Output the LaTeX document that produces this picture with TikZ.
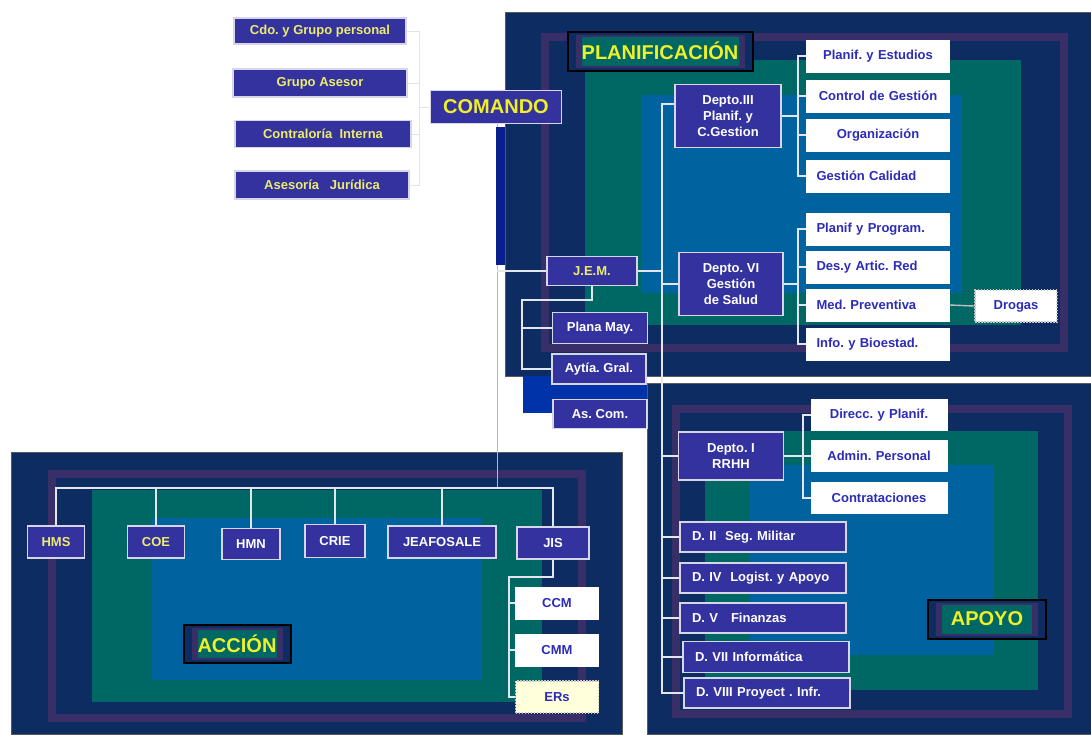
\documentclass[tikz,border=0pt]{standalone}
\usepackage{fontspec}
\setmainfont{Liberation Sans}
\frenchspacing
\definecolor{navybg}{RGB}{12,44,98}
\definecolor{ringpurple}{RGB}{56,46,104}
\definecolor{tealbg}{RGB}{0,104,100}
\definecolor{bluebg}{RGB}{0,98,158}
\definecolor{boxblue}{RGB}{52,50,158}
\definecolor{boxedge}{RGB}{214,214,230}
\definecolor{labyellow}{RGB}{240,240,40}
\definecolor{softyellow}{RGB}{236,236,110}
\definecolor{textblue}{RGB}{44,44,184}
\definecolor{linewhite}{RGB}{228,230,238}
\definecolor{stripblue}{RGB}{10,30,140}
\definecolor{royal}{RGB}{0,50,170}
\definecolor{erfill}{RGB}{255,255,220}
\begin{document}
\begin{tikzpicture}[x=1pt, y=-1pt,
    every node/.style={font=\fontsize{13}{16}\selectfont\bfseries, inner sep=0pt, align=center},
    ybox/.style={fill=boxblue, draw=boxedge, line width=1.4pt, text=softyellow},
    pbox/.style={fill=boxblue, draw=boxedge, line width=1.4pt, text=white},
    wbox/.style={fill=white, draw=white, text=textblue, minimum height=32pt,
        text width=123pt, inner xsep=10pt, align=left},
    dbox/.style={pbox, minimum height=30pt, text width=142pt, inner xsep=12pt, align=left},
    dotbox/.style={draw=gray!45, dash pattern=on 1.5pt off 1.5pt, line width=1.5pt, text=textblue},
    tag/.style={fill=navybg, draw=black, line width=2pt, text=labyellow,
        font=\fontsize{20}{24}\selectfont\bfseries,
        path picture={
          \fill[ringpurple] ([shift={(8pt,-3pt)}]path picture bounding box.north west)
              rectangle ([shift={(-8pt,3pt)}]path picture bounding box.south east);
          \fill[tealbg] ([shift={(14pt,-5pt)}]path picture bounding box.north west)
              rectangle ([shift={(-14pt,5pt)}]path picture bounding box.south east);}},
    conn/.style={draw=linewhite, line width=2.4pt},
    thin/.style={draw=gray!55, line width=1pt},
    faint/.style={draw=gray!22, line width=1pt}]
\useasboundingbox (0,0) rectangle (1091,734);

% Planificacion panel
\fill[navybg] (505,12) rectangle (1091,376);
\draw[ringpurple, line width=8pt] (545,37) rectangle (1064,348);
\fill[tealbg] (585,60) rectangle (1021,325);
\fill[bluebg] (641,95) rectangle (962,293);
\draw[gray!70!black] (505,12) rectangle (1091,376);

% Apoyo panel
\fill[navybg] (647,383) rectangle (1091,734);
\draw[ringpurple, line width=8pt] (676,409) rectangle (1068,714);
\fill[tealbg] (705,431) rectangle (1038,690);
\fill[bluebg] (750,465) rectangle (994,655);
\draw[gray!70!black] (647,383) rectangle (1091,734);

% Accion panel
\fill[navybg] (11,452) rectangle (622,734);
\draw[ringpurple, line width=8pt] (52,474) rectangle (582,718);
\fill[tealbg] (92,490) rectangle (542,702);
\fill[bluebg] (152,518) rectangle (482,680);
\draw[gray!70!black] (11,452) rectangle (622,734);

\fill[royal] (523,376) rectangle (647,413);

% Comando and staff
\node[ybox, minimum width=172pt, minimum height=26pt] (cdo) at (320,31) {Cdo. y Grupo personal};
\node[ybox, minimum width=174pt, minimum height=28pt] (asesor) at (320,83) {Grupo Asesor};
\node[ybox, minimum width=176pt, minimum height=27pt] (contral) at (323,134) {Contraloría\ \ Interna};
\node[ybox, minimum width=174pt, minimum height=28pt] (jurid) at (322,185) {Asesoría\ \ \ Jurídica};
\node[ybox, text=labyellow, minimum width=131pt, minimum height=33pt,
    font=\fontsize{20}{24}\selectfont\bfseries] (comando) at (496,107) {COMANDO};

% J.E.M. and its staff
\node[ybox, minimum width=90pt, minimum height=29pt] (jem) at (592,271) {J.E.M.};
\node[pbox, minimum width=95pt, minimum height=31pt] (plana) at (600,328) {Plana May.};
\node[pbox, minimum width=94pt, minimum height=30pt] (aytia) at (599,369) {Aytía. Gral.};
\node[pbox, minimum width=94pt, minimum height=29pt] (ascom) at (600,414) {As. Com.};

% Planificacion
\node[tag, minimum width=185pt, minimum height=39pt] (planif) at (660,51) {PLANIFICACIÓN};
\node[pbox, minimum width=106pt, minimum height=63pt] (dIII) at (728,116) {Depto.III\\Planif. y\\C.Gestion};
\node[pbox, minimum width=104pt, minimum height=63pt] (dVI) at (731,284) {Depto. VI\\Gestión\\de Salud};
\node[wbox, align=center] (pe) at (878,56) {Planif. y Estudios};
\node[wbox, align=center] (cg) at (878,96) {Control de Gestión};
\node[wbox, align=center] (org) at (878,135) {Organización};
\node[wbox] (gc) at (878,176) {Gestión Calidad};
\node[wbox] (pp) at (878,229) {Planif y Program.};
\node[wbox] (dar) at (878,267) {Des.y Artic. Red};
\node[wbox] (mp) at (878,305) {Med. Preventiva};
\node[wbox] (ib) at (878,344) {Info. y Bioestad.};
\node[dotbox, fill=white, minimum width=82pt, minimum height=32pt] (drogas) at (1016,306) {Drogas};

% Apoyo
\node[tag, minimum width=118pt, minimum height=39pt] (apoyo) at (987,619) {APOYO};
\node[pbox, minimum width=105pt, minimum height=48pt] (dI) at (731,456) {Depto. I\\RRHH};
\node[wbox, text width=116pt, align=center, minimum height=31pt] (dp) at (879,415) {Direcc. y Planif.};
\node[wbox, text width=116pt, align=center, minimum height=31pt] (ap) at (879,456) {Admin. Personal};
\node[wbox, text width=116pt, align=center, minimum height=31pt] (con) at (879,498) {Contrataciones};
\node[dbox] (dII) at (763,537) {D. II\ \ Seg. Militar};
\node[dbox] (dIV) at (763,578) {D. IV\ \ Logist. y Apoyo};
\node[dbox] (dV) at (763,618) {D. V\ \ \ Finanzas};
\node[dbox, minimum height=31pt] (dVII) at (766,657) {D. VII Informática};
\node[dbox] (dVIII) at (767,693) {D. VIII Proyect . Infr.};

% Accion
\node[tag, minimum width=107pt, minimum height=38pt] (accion) at (237,644) {ACCIÓN};
\node[ybox, minimum width=57pt, minimum height=32pt] (hms) at (56,542) {HMS};
\node[ybox, minimum width=57pt, minimum height=32pt] (coe) at (156,542) {COE};
\node[pbox, minimum width=58pt, minimum height=31pt] (hmn) at (251,544) {HMN};
\node[pbox, minimum width=60pt, minimum height=33pt] (crie) at (335,541) {CRIE};
\node[pbox, minimum width=108pt, minimum height=32pt] (jeaf) at (442,542) {JEAFOSALE};
\node[pbox, minimum width=72pt, minimum height=32pt] (jis) at (553,543) {JIS};
\node[wbox, text width=63pt, align=center] (ccm) at (557,603) {CCM};
\node[wbox, text width=63pt, align=center] (cmm) at (557,650) {CMM};
\node[dotbox, fill=erfill, minimum width=83pt, minimum height=32pt] (ers) at (557,697) {ERs};

% staff bracket
\coordinate (ulb) at (419,26);
\draw[faint] (cdo.east) -- (ulb |- cdo.east) -- (ulb |- jurid.east) -- (jurid.east);
\draw[faint] (asesor.east) -- (ulb |- asesor.east);
\draw[faint] (contral.east) -- (ulb |- contral.east);
\draw[faint] (ulb |- comando.west) -- (comando.west);

% comando down to accion
\coordinate (abar) at (497,488);
\draw[thin] (comando.south -| abar) -- (abar);
\draw[conn] (jem.west) -- (jem.west -| abar);

% J.E.M. staff
\coordinate (jsub) at (522,300);
\draw[conn] (jem.south) |- (jsub) -- (jsub |- aytia.west) -- (aytia.west);
\draw[conn] (jsub |- plana.west) -- (plana.west);

% main spine
\coordinate (spine) at (662,104);
\draw[conn] (jem.east) -- (jem.east -| spine);
\draw[conn] (dIII.west |- spine) -- (spine) -- (spine |- dVIII.west) -- (dVIII.west);
\foreach \n in {dVI,dI,dII,dIV,dV,dVII}
  \draw[conn] (spine |- \n.west) -- (\n.west);

% planificacion brackets
\coordinate (pb) at (798,0);
\draw[conn] (pe.west) -- (pb |- pe.west) -- (pb |- gc.west) -- (gc.west);
\draw[conn] (dIII.east) -- (pb |- dIII.east);
\draw[conn] (pp.west) -- (pb |- pp.west) -- (pb |- ib.west) -- (ib.west);
\draw[conn] (dVI.east) -- (pb |- dVI.east);
\foreach \n in {cg,org,dar,mp}
  \draw[conn] (\n.west) -- (pb |- \n.west);
\draw[draw=gray!50, line width=1.4pt] (mp.east) -- (drogas.west);

% apoyo bracket
\coordinate (ab) at (803,0);
\draw[conn] (dp.west) -- (ab |- dp.west) -- (ab |- con.west) -- (con.west);
\draw[conn] (dI.east) -- (ab |- dI.east);
\draw[conn] (ap.west) -- (ab |- ap.west);

% accion tree
\draw[conn] (hms.north) |- (jis.north |- abar) -- (jis.north);
\foreach \n in {coe,hmn,crie,jeaf}
  \draw[conn] (\n.north) -- (\n.north |- abar);
\coordinate (jisub) at (509,577);
\draw[conn] (jis.south) |- (jisub) -- (jisub |- ers.west) -- (ers.west);
\draw[conn] (ccm.west) -- (jisub |- ccm.west);
\draw[conn] (cmm.west) -- (jisub |- cmm.west);

\fill[stripblue] (496,127) rectangle (505,265);
\end{tikzpicture}
\end{document}
